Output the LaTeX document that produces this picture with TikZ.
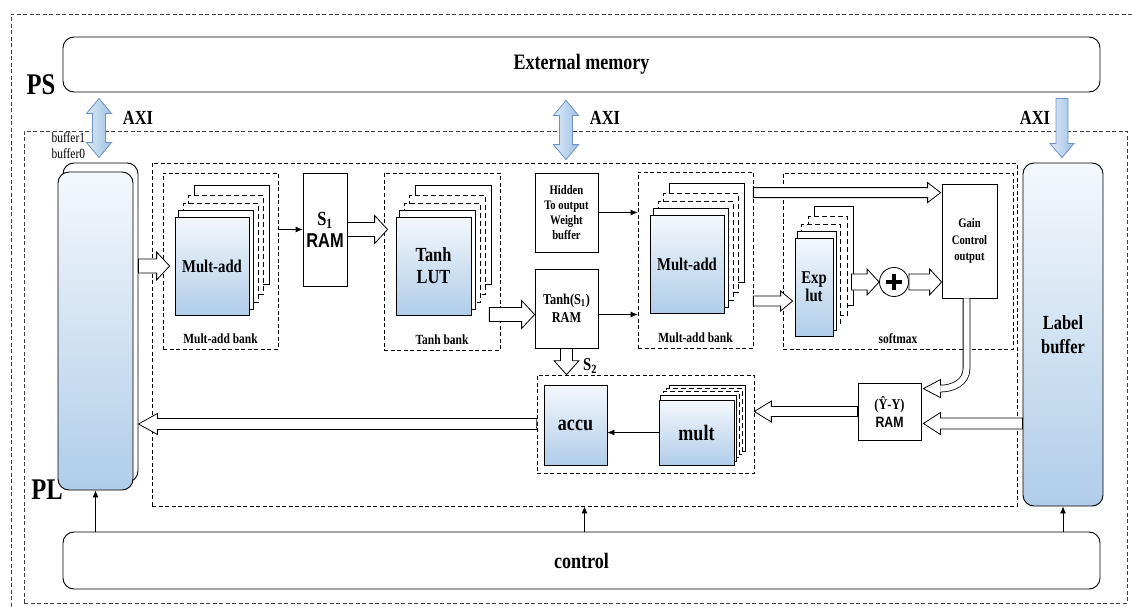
\documentclass[tikz,border=0pt]{standalone}
\usepackage{fontspec}
\setmainfont{Liberation Serif}[FakeStretch=0.82]
\newfontfamily\sansgras{Liberation Sans}[FakeStretch=0.82]
\usetikzlibrary{positioning,calc,arrows.meta,backgrounds}

\definecolor{bleuhaut}{RGB}{244,248,252}
\definecolor{bleubas}{RGB}{176,205,233}
\definecolor{axiclair}{RGB}{222,234,247}
\definecolor{axifonce}{RGB}{158,192,228}
\definecolor{axibord}{RGB}{108,148,196}

\newcommand{\corps}[2]{\fontsize{#1}{#2}\selectfont}

\tikzset{
  bloc/.style={draw, line width=0.8pt, fill=white, align=center, inner sep=0pt},
  degrade/.style={bloc, top color=bleuhaut, bottom color=bleubas},
  arrondi/.style={draw, line width=0.9pt, rounded corners=11pt, align=center},
  pointille/.style={draw, line width=0.7pt, dash pattern=on 4pt off 2.5pt},
  plein/.style={solid},
  tiret/.style={dash pattern=on 5pt off 3pt},
  fleche/.style={line width=0.8pt, -{Latex[length=7pt,width=6pt]}},
  creux/.style={draw, line width=0.8pt, fill=white, line join=miter},
  axi/.style={draw=axibord, line width=0.8pt, left color=axiclair, right color=axifonce},
  etiq/.style={font=\bfseries\corps{14}{16}},
}

% flèche creuse : [style] départ, pointe, demi-corps, demi-tête, longueur de tête
\newcommand{\flechecreuse}[6][creux]{%
  \coordinate (fa) at (#2);
  \coordinate (fb) at (#3);
  \coordinate (fc) at ($(fb)!#6!(fa)$);
  \draw[#1] ($(fa)!#4!90:(fb)$) -- ($(fc)!#4!90:(fb)$) -- ($(fc)!#5!90:(fb)$)
    -- (fb) -- ($(fc)!#5!-90:(fb)$) -- ($(fc)!#4!-90:(fb)$) -- ($(fa)!#4!-90:(fb)$) -- cycle;
}

% flèche AXI à deux pointes
\newcommand{\flecheaxi}[2]{%
  \coordinate (fa) at (#1);
  \coordinate (fb) at (#2);
  \coordinate (fc) at ($(fb)!15pt!(fa)$);
  \coordinate (fd) at ($(fa)!15pt!(fb)$);
  \draw[axi] (fa) -- ($(fd)!12.5pt!90:(fb)$) -- ($(fd)!6.5pt!90:(fb)$) -- ($(fc)!6.5pt!90:(fb)$)
    -- ($(fc)!12.5pt!90:(fb)$) -- (fb) -- ($(fc)!12.5pt!-90:(fb)$) -- ($(fc)!6.5pt!-90:(fb)$)
    -- ($(fd)!6.5pt!-90:(fb)$) -- ($(fd)!12.5pt!-90:(fb)$) -- cycle;
}

% couches empilées derrière un bloc
\newcommand{\couches}[2]{%
  \begin{pgfonlayer}{background}
  \foreach \dx/\dy/\trait in {#2}
    \draw[line width=0.7pt, fill=white, \trait] ($(#1.south west)+(\dx,-\dy)$) rectangle ($(#1.north east)+(\dx,-\dy)$);
  \end{pgfonlayer}}

\begin{document}
\begin{tikzpicture}[x=1pt, y=-1pt]
\useasboundingbox (0,0) rectangle (1132,607);

% cadres pointillés PS et PL
\draw[pointille, draw=black!75] (1132,14) -- (11,14) -- (11,607);
\node[pointille, draw=black!75, minimum width=1103pt, minimum height=472pt] (plbox) at (575.5,367) {};
\node[pointille, minimum width=865pt, minimum height=343pt] (main) at (584.5,334.5) {};

\node[font=\bfseries\corps{30}{30}] (ps) at (41,85) {PS};
\node[font=\bfseries\corps{30}{30}] (pl) at (47,490) {PL};

% mémoire externe et contrôle
\node[arrondi, minimum width=1037pt, minimum height=55pt, font=\bfseries\corps{22}{22}] (extmem) at (581.5,64.5) {External memory};
\node[arrondi, minimum width=1037pt, minimum height=57pt, font=\bfseries\corps{22}{22}] (control) at (581.5,560.5) {control};

% double tampon d'entrée
\node[arrondi, fill=white, minimum width=75pt, minimum height=319pt] (bufb) at (100.5,322.5) {};
\node[arrondi, top color=bleuhaut, bottom color=bleubas, minimum width=75pt, minimum height=318pt] (buf) at (95.5,331) {};
\node[anchor=west, font=\corps{14}{14}] (b1) at (48,138) {buffer1};
\node[anchor=west, font=\corps{14}{14}] (b0) at (48,154) {buffer0};

% tampon des étiquettes
\node[arrondi, top color=bleuhaut, bottom color=bleubas, minimum width=80pt, minimum height=343pt, font=\bfseries\corps{20}{24}] (label) at (1063,334.5) {Label\\buffer};

% AXI
\coordinate (axiG) at (99,0);
\coordinate (axiM) at (566,0);
\coordinate (axiD) at (1062,0);
\flecheaxi{$(extmem.south -| axiG)+(0,6)$}{$(bufb.north -| axiG)+(0,-5)$}
\flecheaxi{$(extmem.south -| axiM)+(0,8)$}{$(main.north -| axiM)+(0,-3)$}
\flechecreuse[axi]{$(extmem.south -| axiD)+(0,6)$}{$(label.north -| axiD)+(0,-5)$}{6pt}{12pt}{14pt}
\node[font=\bfseries\corps{20}{20}] (axi1) at (138,118) {AXI};
\node[font=\bfseries\corps{20}{20}] (axi2) at (605,118) {AXI};
\node[font=\bfseries\corps{20}{20}] (axi3) at (1035,118) {AXI};

% banc Mult-add (couche cachée)
\node[pointille, minimum width=115pt, minimum height=176pt] (bank1) at (220.5,261) {};
\node[etiq, above=2pt of bank1.south] {Mult-add bank};
\node[degrade, minimum width=74pt, minimum height=98pt, font=\bfseries\corps{18}{18}] (ma1) at (212,266) {Mult-add};
\couches{ma1}{20/31/plein, 14/21/tiret, 9/13/tiret, 4/6/plein}

\node[bloc, minimum width=44pt, minimum height=113pt, font=\bfseries\corps{20}{22}] (s1ram) at (325,229.5) {S\textsubscript{1}\\{\sansgras RAM}};

% banc Tanh
\node[pointille, minimum width=116pt, minimum height=177pt] (tanhbank) at (442,261.5) {};
\node[etiq, above=2pt of tanhbank.south] {Tanh bank};
\node[degrade, minimum width=75pt, minimum height=98pt, font=\bfseries\corps{20}{22}] (tanh) at (433.5,266) {Tanh\\LUT};
\couches{tanh}{20/31/plein, 14/21/tiret, 9/13/tiret, 4/6/plein}

\node[bloc, minimum width=63pt, minimum height=79pt, font=\bfseries\corps{13}{15}] (hidden) at (566.5,212.5) {Hidden\\To output\\Weight\\buffer};
\node[bloc, minimum width=63pt, minimum height=79pt, font=\bfseries\corps{15}{18}] (tanhs1) at (566.5,308.5) {Tanh(S\textsubscript{1})\\RAM};

% banc Mult-add (couche de sortie)
\node[pointille, minimum width=115pt, minimum height=176pt] (bank2) at (695.5,260) {};
\node[etiq, above=2pt of bank2.south] {Mult-add bank};
\node[degrade, minimum width=74pt, minimum height=98pt, font=\bfseries\corps{18}{18}] (ma2) at (687,264) {Mult-add};
\couches{ma2}{20/31/plein, 14/21/tiret, 9/13/tiret, 4/6/plein}

% softmax
\node[pointille, minimum width=230pt, minimum height=176pt] (softmax) at (898,261) {};
\node[etiq, above=2pt of softmax.south] {softmax};
\node[degrade, minimum width=38pt, minimum height=98pt, font=\bfseries\corps{18}{18}] (exp) at (814,287) {Exp\\lut};
\couches{exp}{20/31/plein, 14/21/tiret, 7/13/tiret, 3/6/plein}
\node[draw, circle, line width=0.8pt, fill=white, minimum size=29pt, inner sep=0pt] (plus) at (894,282) {};
\draw[line width=4pt] ($(plus.center)+(-8,0)$) -- ($(plus.center)+(8,0)$);
\draw[line width=4pt] ($(plus.center)+(0,-8)$) -- ($(plus.center)+(0,8)$);
\node[bloc, minimum width=55pt, minimum height=114pt, font=\bfseries\corps{13}{16.5}] (gain) at (969.5,241) {Gain\\Control\\output};

% accumulation
\node[pointille, minimum width=217pt, minimum height=98pt] (accubank) at (645.5,424) {};
\node[degrade, minimum width=63pt, minimum height=80pt, font=\bfseries\corps{22}{22}] (accu) at (575.5,425) {accu};
\node[degrade, minimum width=75pt, minimum height=65pt, font=\bfseries\corps{22}{22}] (mult) at (696.5,432.5) {mult};
\couches{mult}{11/14/plein, 8/11/tiret, 5/8/tiret, 2/4/plein}
\node[bloc, minimum width=63pt, minimum height=57pt, font=\bfseries\corps{15}{18}] (yhat) at (889.5,411.5) {(Ŷ-Y)\\{\sansgras RAM}};
\node[font=\bfseries\corps{18}{18}] (s2) at (590,366) {S\textsubscript{2}};

% flèches simples
\draw[fleche] (bank1.east |- s1ram.west) -- (s1ram.west);
\draw[fleche] (hidden.east) -- (hidden.east -| bank2.west);
\coordinate (tse) at ([yshift=-6pt]tanhs1.east);
\draw[fleche] (tse) -- (tse -| bank2.west);
\draw[fleche] (mult.west) -- (mult.west -| accu.east);
\draw[fleche] (control.north -| buf.south) -- (buf.south);
\draw[fleche] (control.north -| main.south) -- (main.south);
\draw[fleche] (control.north -| label.south) -- (label.south);

% flèches creuses
\flechecreuse{bufb.east |- ma1.west}{[xshift=-5pt]ma1.west}{7pt}{14pt}{13pt}
\coordinate (t1) at (s1ram.east -| tanh.west);
\flechecreuse{s1ram.east}{[xshift=-8pt]t1}{7pt}{14pt}{13pt}
\coordinate (tsw) at ([yshift=-6pt]tanhs1.west);
\flechecreuse{[xshift=-11pt]tanhbank.east |- tsw}{tsw}{7pt}{14pt}{13pt}
\coordinate (g1) at ([yshift=-9pt]gain.north west);
\flechecreuse{bank2.east |- g1}{[xshift=-1pt]g1}{5pt}{10pt}{13pt}
\coordinate (e1) at ([yshift=-14pt]exp.west);
\flechecreuse{bank2.east |- e1}{[xshift=-2pt]e1}{5pt}{10pt}{12pt}
\coordinate (e2) at (plus.west -| exp.east);
\flechecreuse{[xshift=18pt]e2}{plus.west}{8pt}{13pt}{12pt}
\flechecreuse{plus.east}{plus.east -| gain.west}{8pt}{13pt}{12pt}
\flechecreuse{tanhs1.south}{tanhs1.south |- accubank.north}{6pt}{12.5pt}{14pt}
\flechecreuse{yhat.west}{accubank.east |- yhat.west}{5pt}{10.5pt}{17pt}
\coordinate (yin) at ([yshift=-12pt]yhat.east);
\flechecreuse{label.west |- yin}{[xshift=2pt]yin}{5.5pt}{11pt}{17pt}
\flechecreuse{accubank.west}{accubank.west -| bufb.east}{5.5pt}{10.5pt}{19pt}

% flèche courbe de Gain vers (Ŷ-Y) RAM
\coordinate (pointe) at ($(yhat.north east)+(2,6)$);
\coordinate (base) at ($(pointe)+(17,0)$);
\coordinate (g2) at ([xshift=-3pt]gain.south);
\draw[line width=0.8pt, double=white, double distance=6pt] (g2) -- ($(g2 |- base)+(0,-20)$)
  .. controls ($(g2 |- base)+(0,-6)$) and ($(base)+(12,0)$) .. (base);
\draw[creux] ($(base)+(0,-3.4)$) -- ($(base)+(0,-9)$) -- (pointe) -- ($(base)+(0,9)$) -- ($(base)+(0,3.4)$);
\end{tikzpicture}
\end{document}
